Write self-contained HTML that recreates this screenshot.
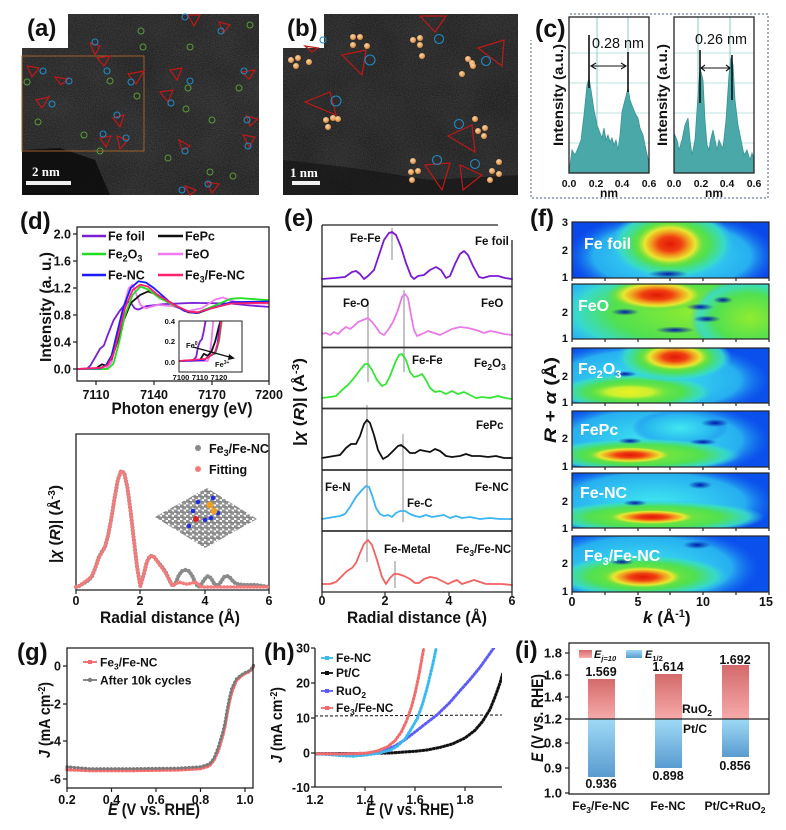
<!DOCTYPE html>
<html><head><meta charset="utf-8"><style>
html,body{margin:0;padding:0;background:#fff}
svg{display:block}
text{font-family:"Liberation Sans",Arial,sans-serif;font-weight:bold;fill:#111}
.t{font-size:12.5px}
.lab{font-size:16px}
.pl{font-size:24px}
.ax{fill:none;stroke:#222;stroke-width:1.3}
.c{fill:none;stroke-width:1.8;stroke-linejoin:round;stroke-linecap:round}
.tr{fill:none;stroke:#c01818;stroke-width:1.2}
.bc{fill:none;stroke:#1e8cc8;stroke-width:1.1}
.gc{fill:none;stroke:#5a9a3a;stroke-width:1}
.wl text{fill:#fff;font-size:16px}
</style></head><body>
<svg width="786" height="830" viewBox="0 0 786 830" xmlns="http://www.w3.org/2000/svg">
<defs>
<filter id="nz" x="0" y="0" width="1" height="1" color-interpolation-filters="sRGB"><feTurbulence type="fractalNoise" baseFrequency="0.85" numOctaves="2" seed="5"/><feColorMatrix type="matrix" values="1.3 0 0 0 -0.25 1.3 0 0 0 -0.25 1.3 0 0 0 -0.25 0 0 0 0 1"/></filter>
<filter id="nz2" x="0" y="0" width="1" height="1" color-interpolation-filters="sRGB"><feTurbulence type="fractalNoise" baseFrequency="0.025" numOctaves="2" seed="9"/><feColorMatrix type="matrix" values="1 0 0 0 -0.2 1 0 0 0 -0.2 1 0 0 0 -0.2 0 0 0 0 1"/></filter>
<radialGradient id="orb" cx="0.4" cy="0.35" r="0.65"><stop offset="0" stop-color="#ffd8a8"/><stop offset="1" stop-color="#d88a40"/></radialGradient>
<radialGradient id="hot"><stop offset="0" stop-color="#e01808"/><stop offset="0.3" stop-color="#f04010"/><stop offset="0.5" stop-color="#f0a020"/><stop offset="0.67" stop-color="#e8e830"/><stop offset="0.85" stop-color="#70e040" stop-opacity="0.8"/><stop offset="1" stop-color="#60e040" stop-opacity="0"/></radialGradient>
<radialGradient id="grn"><stop offset="0" stop-color="#90ec30"/><stop offset="0.6" stop-color="#50e050"/><stop offset="0.85" stop-color="#38dcc8" stop-opacity="0.9"/><stop offset="1" stop-color="#30c0f0" stop-opacity="0"/></radialGradient>
<radialGradient id="yel"><stop offset="0" stop-color="#f0f020"/><stop offset="0.55" stop-color="#c8f030"/><stop offset="1" stop-color="#60e040" stop-opacity="0"/></radialGradient>
<radialGradient id="cya"><stop offset="0" stop-color="#40e8f0"/><stop offset="0.75" stop-color="#28b4f0" stop-opacity="0.95"/><stop offset="1" stop-color="#1870f0" stop-opacity="0"/></radialGradient>
<radialGradient id="dk"><stop offset="0" stop-color="#0018a8"/><stop offset="1" stop-color="#0018a8" stop-opacity="0"/></radialGradient>
<linearGradient id="rb" x1="0" y1="0" x2="0" y2="1"><stop offset="0" stop-color="#d46a6a"/><stop offset="1" stop-color="#f7aaaa"/></linearGradient>
<linearGradient id="bb" x1="0" y1="0" x2="0" y2="1"><stop offset="0" stop-color="#9edaf6"/><stop offset="1" stop-color="#5a9bd0"/></linearGradient>
<pattern id="lat" width="6" height="5.2" patternUnits="userSpaceOnUse"><circle cx="1.5" cy="1.3" r="1.9" fill="#909090" stroke="#6a6a6a" stroke-width="0.5"/><circle cx="4.5" cy="3.9" r="1.9" fill="#909090" stroke="#6a6a6a" stroke-width="0.5"/></pattern>
<clipPath id="cpD"><rect x="77" y="227" width="192" height="154"/></clipPath>
<clipPath id="cpI"><rect x="179" y="321" width="63" height="51"/></clipPath>
<clipPath id="f1"><rect x="572" y="222" width="197" height="56"/></clipPath>
<clipPath id="f2"><rect x="572" y="284" width="197" height="55"/></clipPath>
<clipPath id="f3"><rect x="572" y="348" width="197" height="55"/></clipPath>
<clipPath id="f4"><rect x="572" y="411" width="197" height="56"/></clipPath>
<clipPath id="f5"><rect x="572" y="473" width="197" height="55"/></clipPath>
<clipPath id="f6"><rect x="572" y="536" width="197" height="56"/></clipPath>
<clipPath id="cpH"><rect x="315" y="648" width="187" height="139"/></clipPath>
</defs>

<!-- ===== (a) TEM ===== -->
<rect x="22" y="14" width="237" height="181" fill="#262626"/>
<rect x="22" y="14" width="237" height="181" filter="url(#nz2)" opacity="0.06"/>
<rect x="22" y="14" width="237" height="181" filter="url(#nz)" opacity="0.13"/>
<path d="M22,150 L60,148 L95,160 L110,195 L22,195 Z" fill="#0c0c0c" opacity="0.85"/>
<rect x="22" y="14" width="46" height="34" fill="#fff"/>
<text x="27" y="36" class="pl">(a)</text>
<rect x="22" y="56" width="122" height="95" fill="none" stroke="#a0602a" stroke-width="1"/>
<g class="tr">
<path d="M188,15 L200,15 L194,26Z"/><path d="M219,22 L230,25 L223,33Z"/><path d="M90,43 L100,46 L95,55Z"/><path d="M97,58 L110,56 L104,66Z"/><path d="M27,66 L39,68 L32,77Z"/><path d="M55,77 L68,79 L61,85Z"/><path d="M128,74 L144,71 L136,84Z"/><path d="M36,100 L49,97 L42,108Z"/><path d="M170,70 L182,68 L177,80Z"/><path d="M160,92 L173,90 L168,102Z"/><path d="M113,118 L124,115 L120,127Z"/><path d="M100,138 L111,136 L106,147Z"/><path d="M117,136 L128,140 L120,149Z"/><path d="M179,140 L190,146 L182,150Z"/><path d="M242,72 L255,70 L249,79Z"/><path d="M246,116 L258,119 L250,126Z"/><path d="M243,135 L255,137 L249,147Z"/><path d="M185,186 L196,190 L190,195Z"/><path d="M207,182 L219,184 L212,193Z"/>
</g>
<g class="bc">
<circle cx="185" cy="17" r="3"/><circle cx="221" cy="31" r="3"/><circle cx="95" cy="42" r="3"/><circle cx="107" cy="71" r="3"/><circle cx="43" cy="71" r="3"/><circle cx="69" cy="81" r="3"/><circle cx="131" cy="82" r="3"/><circle cx="52" cy="104" r="3"/><circle cx="190" cy="81" r="3"/><circle cx="171" cy="103" r="3"/><circle cx="117" cy="115" r="3"/><circle cx="103" cy="134" r="3"/><circle cx="126" cy="138" r="3"/><circle cx="185" cy="151" r="3"/><circle cx="244" cy="71" r="3"/><circle cx="247" cy="120" r="3"/><circle cx="248" cy="146" r="3"/><circle cx="182" cy="190" r="3"/><circle cx="208" cy="184" r="3"/>
</g>
<g class="gc">
<circle cx="141" cy="31" r="3"/><circle cx="143" cy="47" r="3"/><circle cx="190" cy="47" r="3"/><circle cx="250" cy="25" r="3"/><circle cx="27" cy="82" r="3"/><circle cx="110" cy="81" r="3"/><circle cx="137" cy="96" r="3"/><circle cx="188" cy="88" r="3"/><circle cx="239" cy="88" r="3"/><circle cx="186" cy="109" r="3"/><circle cx="212" cy="120" r="3"/><circle cx="38" cy="122" r="3"/><circle cx="84" cy="135" r="3"/><circle cx="100" cy="151" r="3"/><circle cx="168" cy="158" r="3"/><circle cx="210" cy="172" r="3"/><circle cx="233" cy="176" r="3"/>
</g>
<text x="32" y="176" style="font-family:'Liberation Serif',serif;font-size:13px;fill:#fff">2 nm</text>
<rect x="26" y="181" width="45" height="4" fill="#f0f0f0"/>

<!-- ===== (b) TEM ===== -->
<rect x="283" y="14" width="235" height="181" fill="#242424"/>
<rect x="283" y="14" width="235" height="181" filter="url(#nz2)" opacity="0.06"/>
<rect x="283" y="14" width="235" height="181" filter="url(#nz)" opacity="0.12"/>
<path d="M283,160 L330,165 L380,172 L430,180 L518,175 L518,195 L283,195Z" fill="#111" opacity="0.6"/>
<rect x="283" y="14" width="41" height="34" fill="#fff"/>
<text x="287" y="36" class="pl">(b)</text>
<g class="tr">
<path d="M342,55 L366,50 L362,75Z"/><path d="M305,102 L330,92 L336,115Z"/><path d="M420,16 L446,16 L435,32Z"/><path d="M478,48 L504,40 L502,66Z"/><path d="M448,136 L472,125 L475,152Z"/><path d="M425,165 L450,163 L442,190Z"/><path d="M460,165 L482,175 L463,190Z"/><path d="M305,46 L318,48 L312,52Z"/>
</g>
<g class="bc" stroke-width="1.2">
<circle cx="370" cy="60" r="5"/><circle cx="336" cy="101" r="5"/><circle cx="439" cy="39" r="4.5"/><circle cx="486" cy="61" r="4.5"/><circle cx="459" cy="124" r="4.5"/><circle cx="437" cy="160" r="4.5"/><circle cx="475" cy="164" r="4.5"/><circle cx="323" cy="40" r="3"/>
</g>
<g fill="url(#orb)">
<circle cx="291" cy="60" r="3"/><circle cx="298" cy="58" r="3"/><circle cx="309" cy="62" r="3"/><circle cx="296" cy="66" r="3"/>
<circle cx="353" cy="37" r="3"/><circle cx="360" cy="37" r="3"/><circle cx="353" cy="45" r="3"/><circle cx="367" cy="46" r="3"/>
<circle cx="326" cy="120" r="3"/><circle cx="333" cy="118" r="3"/><circle cx="328" cy="127" r="3"/><circle cx="338" cy="119" r="3"/>
<circle cx="413" cy="40" r="3"/><circle cx="420" cy="38" r="3"/><circle cx="420" cy="45" r="3"/><circle cx="422" cy="56" r="3"/>
<circle cx="468" cy="59" r="3"/><circle cx="472" cy="63" r="3"/><circle cx="473" cy="66" r="3"/><circle cx="462" cy="74" r="3"/>
<circle cx="475" cy="119" r="3"/><circle cx="478" cy="131" r="3"/><circle cx="485" cy="128" r="3"/><circle cx="484" cy="136" r="3"/>
<circle cx="413" cy="161" r="3"/><circle cx="411" cy="172" r="3"/><circle cx="418" cy="171" r="3"/><circle cx="412" cy="180" r="3"/>
<circle cx="499" cy="162" r="3"/><circle cx="492" cy="171" r="3"/><circle cx="499" cy="174" r="3"/><circle cx="490" cy="180" r="3"/>
</g>
<text x="290" y="177" style="font-family:'Liberation Serif',serif;font-size:13px;fill:#fff">1 nm</text>
<rect x="292" y="181" width="28" height="4" fill="#f0f0f0"/>

<!-- ===== (c) ===== -->
<path d="M570,14 H768 V198 H531 V40" fill="none" stroke="#6a7aa0" stroke-width="1.2" stroke-dasharray="2 2"/>
<text x="535" y="37" class="pl" style="font-size:25px">(c)</text>
<g stroke="#bfe2e2" stroke-width="1"><path d="M569,53 H649 M569,83 H649 M569,113 H649 M569,143 H649 M674,53 H754 M674,83 H754 M674,113 H754 M674,143 H754"/></g>
<g stroke="#8cc8c8" stroke-width="1"><path d="M597,17 V173 M628,17 V173 M698,17 V173 M730,17 V173"/></g>
<path d="M569,173 L572,150 L575,155 L578,148 L581,140 L584,115 L587,85 L589,78 L591,90 L594,110 L597,125 L600,133 L602,138 L604,128 L606,140 L608,135 L610,142 L612,138 L614,145 L616,140 L618,150 L620,135 L622,112 L625,100 L628,88 L630,100 L633,108 L636,115 L638,118 L640,128 L643,135 L646,150 L649,163 L649,173 Z" fill="#4aa8a8" stroke="#3a9494" stroke-width="0.8"/>
<path d="M674,173 L674,133 L677,140 L679,150 L682,140 L685,125 L688,118 L690,140 L692,155 L695,140 L698,95 L700,68 L703,80 L705,120 L707,145 L709,150 L711,138 L713,130 L715,140 L717,150 L719,140 L721,145 L723,148 L726,120 L729,75 L731,58 L733,65 L735,100 L738,125 L741,140 L744,155 L747,150 L750,160 L752,153 L754,158 L754,173 Z" fill="#4aa8a8" stroke="#3a9494" stroke-width="0.8"/>
<rect x="569" y="17" width="80" height="156" class="ax"/>
<rect x="674" y="17" width="80" height="156" class="ax"/>
<g stroke="#111" stroke-width="1.6" fill="none">
<path d="M589,35 V88 M628,52 V92 M700,50 V103 M732,55 V100"/>
<path d="M592,66 H625 M701,68 H730" stroke-width="1.1"/>
<path d="M596,63 L591,66 L596,69 M621,63 L626,66 L621,69 M705,65 L701,68 L705,71 M726,65 L730,68 L726,71" stroke-width="1.1"/>
</g>
<text x="592" y="48" style="font-size:15px;font-weight:normal" textLength="52" lengthAdjust="spacingAndGlyphs">0.28 nm</text>
<text x="695" y="44" style="font-size:15px;font-weight:normal" textLength="52" lengthAdjust="spacingAndGlyphs">0.26 nm</text>
<text transform="translate(563,95) rotate(-90)" text-anchor="middle" style="font-size:14px" textLength="102" lengthAdjust="spacingAndGlyphs">Intensity (a.u.)</text>
<text transform="translate(667,95) rotate(-90)" text-anchor="middle" style="font-size:14px" textLength="102" lengthAdjust="spacingAndGlyphs">Intensity (a.u.)</text>
<g style="font-size:10.5px" text-anchor="middle">
<text x="569" y="187">0.0</text><text x="596" y="187">0.2</text><text x="622" y="187">0.4</text><text x="649" y="187">0.6</text>
<text x="674" y="187">0.0</text><text x="701" y="187">0.2</text><text x="727" y="187">0.4</text><text x="754" y="187">0.6</text>
<text x="609" y="197" style="font-size:12px">nm</text><text x="714" y="197" style="font-size:12px">nm</text>
</g>

<!-- ===== (d) upper ===== -->
<text x="20" y="229" class="pl">(d)</text>
<g clip-path="url(#cpD)">
<polyline class="c" stroke="#7a1fd6" points="77,369 86.6,369 90.4,365.6 96.2,355.5 100,348.8 103.9,345.4 107.7,335 113.5,320.4 119.2,311.6 126.9,301.5 130.8,302.8 134.6,308.3 138.4,309.6 146.1,306.2 163.4,304.2 192.2,302.9 230.6,303.5 249.8,305.5 269,306.9"/>
<polyline class="c" stroke="#f07af0" points="77,369 105.8,369 111.6,362.3 117.3,335.3 123.1,308.3 128.8,288 132.7,284.6 136.5,294.8 140.4,304.9 146.1,308.3 157.6,304.9 173,306.2 188.4,311 201.8,308.3 215.2,299.5 222.9,297.5 234.4,301.5 249.8,303.5 269,303.5"/>
<polyline class="c" stroke="#111" points="77,369 96.2,368.3 102,364.3 105.8,365.6 111.6,358.9 117.3,342 123.1,321.8 130.8,302.9 140.4,294.8 148,291.4 157.6,294.8 173,304.9 188.4,312.3 198,313 211.4,308.3 230.6,303.5 269,301.5"/>
<polyline class="c" stroke="#22dd22" points="77,369 107.7,369 113.5,363.6 119.2,342 125,315 132.7,294.8 140.4,286.6 148,289.4 159.6,298.1 173,304.9 188.4,311.6 198,312.3 211.4,306.9 230.6,298.8 240.2,298.1 269,300.2"/>
<polyline class="c" stroke="#1a1aff" points="77,369 100,368.3 105.8,365.6 111.6,355.5 117.3,331.9 123.1,308.3 130.8,288 138.4,281.3 146.1,282.6 153.8,288 169.2,301.5 184.5,311 196,313 211.4,308.3 230.6,302.2 269,301.5"/>
<polyline class="c" stroke="#ff1f6f" points="77,369 102,367.7 107.7,365 113.5,354.2 119.2,331.9 125,308.3 132.7,290 140.4,284.6 148,286.6 157.6,294.8 173,304.2 188.4,311.6 198,312.3 211.4,308.3 230.6,303.5 269,302.8"/>
</g>
<rect x="77" y="227" width="192" height="154" class="ax"/>
<g stroke="#222" stroke-width="1.2"><path d="M77,369 h-4 M77,342 h-4 M77,315 h-4 M77,288 h-4 M77,261 h-4 M77,234 h-4 M96,381 v4 M154,381 v4 M212,381 v4 M269,381 v4"/></g>
<g class="t" text-anchor="end">
<text x="71" y="373.5">0.0</text><text x="71" y="346.5">0.4</text><text x="71" y="319.5">0.8</text><text x="71" y="292.5">1.2</text><text x="71" y="265.5">1.6</text><text x="71" y="238.5">2.0</text>
</g>
<g class="t" text-anchor="middle"><text x="96" y="399">7110</text><text x="154" y="399">7140</text><text x="212" y="399">7170</text><text x="269" y="399">7200</text></g>
<text x="182" y="414" text-anchor="middle" class="lab" style="font-size:17px" textLength="141" lengthAdjust="spacingAndGlyphs">Photon energy (eV)</text>
<text transform="translate(51,307) rotate(-90)" text-anchor="middle" class="lab" style="font-size:16px" textLength="110" lengthAdjust="spacingAndGlyphs">Intensity (a. u.)</text>
<g stroke-width="2.5">
<line x1="82" y1="236" x2="106" y2="236" stroke="#7a1fd6"/><line x1="158" y1="236" x2="183" y2="236" stroke="#111"/>
<line x1="82" y1="254" x2="106" y2="254" stroke="#22dd22"/><line x1="158" y1="254" x2="183" y2="254" stroke="#f07af0"/>
<line x1="82" y1="275" x2="106" y2="275" stroke="#1a1aff"/><line x1="158" y1="275" x2="183" y2="275" stroke="#ff1f6f"/>
</g>
<g style="font-size:12.5px">
<text x="108" y="240.5">Fe foil</text><text x="185" y="240.5">FePc</text>
<text x="108" y="258.5">Fe<tspan dy="3" style="font-size:9px">2</tspan><tspan dy="-3">O</tspan><tspan dy="3" style="font-size:9px">3</tspan></text><text x="185" y="258.5">FeO</text>
<text x="108" y="279.5">Fe-NC</text><text x="185" y="279.5">Fe<tspan dy="3" style="font-size:9px">3</tspan><tspan dy="-3">/Fe-NC</tspan></text>
</g>
<rect x="179" y="321" width="63" height="51" fill="#fff"/>
<g clip-path="url(#cpI)">
<polyline class="c" stroke-width="1.2" stroke="#7a1fd6" points="179,361 192.4,361 196.2,356.9 198.1,346.6 200,341.4 201.9,339.3 203.8,331 205.7,320"/>
<polyline class="c" stroke-width="1.2" stroke="#f07af0" points="179,361 207.6,361 209.5,356.9 211.4,341.4 213.3,320"/>
<polyline class="c" stroke-width="1.2" stroke="#111" points="179,361 200,360 203.8,353.8 207.6,355.8 211.4,351.7 215.2,341.4 219,326 220.9,320"/>
<polyline class="c" stroke-width="1.2" stroke="#22dd22" points="179,361 203,360 207.6,357.9 211.4,354.8 215.2,353.8 219,341.4 221.9,320"/>
<polyline class="c" stroke-width="1.2" stroke="#1a1aff" points="179,361 204,360 208,357 212,355 215.2,352 217.1,346.6 220.9,320"/>
<polyline class="c" stroke-width="1.2" stroke="#ff1f6f" points="179,361 205.7,358.9 211.4,355 215.2,351.7 219,339.3 221.3,320"/>
</g>
<rect x="179" y="321" width="63" height="51" fill="none" stroke="#222" stroke-width="1"/>
<path d="M193,347 L233,358" stroke="#111" stroke-width="1.2"/><path d="M229,354 L235,358.5 L228,360Z" fill="#111"/>
<g style="font-size:7.5px">
<text x="175" y="324" text-anchor="end">0.4</text><text x="175" y="344" text-anchor="end">0.2</text><text x="175" y="365" text-anchor="end">0.0</text>
<text x="181" y="380" text-anchor="middle">7100</text><text x="200" y="380" text-anchor="middle">7110</text><text x="219" y="380" text-anchor="middle">7120</text>
<text x="186" y="348">Fe<tspan dy="-3" style="font-size:5px">0</tspan></text>
<text x="215" y="367">Fe<tspan dy="-3" style="font-size:5px">3+</tspan></text>
</g>

<!-- ===== (d) lower ===== -->
<polygon points="155,517 207,488 257,519 205,548" fill="url(#lat)"/>
<g fill="#2030e0"><circle cx="193" cy="511" r="2.3"/><circle cx="198" cy="502" r="2.3"/><circle cx="205" cy="520" r="2.3"/><circle cx="213" cy="498" r="2.3"/><circle cx="218" cy="513" r="2.3"/><circle cx="189" cy="526" r="2.3"/><circle cx="211" cy="518" r="2.3"/></g>
<circle cx="210" cy="505" r="3.4" fill="#f0a020"/><circle cx="214" cy="511" r="3.4" fill="#f0a020"/><circle cx="196" cy="519" r="3" fill="#e02020"/>
<path d="M76,434 H269 V590 H76 Z" class="ax"/>
<polyline fill="none" stroke="#8a8a8a" stroke-width="4.2" stroke-linecap="round" stroke-dasharray="0.1 3.2" points="76,587 79.2,586 82.4,584 85.7,582 88.9,580 92.1,576 95.3,568 98.5,558 101.7,552 105,547 108.2,535 111.4,518 114.6,498 117.8,480 121,471 124.3,473 127.5,488 130.7,512 133.9,540 137.1,567 140.3,586 143.6,575 146.8,562 150,556 153.2,556 156.4,560 159.6,564 162.9,568 166.1,573 169.3,580 172.5,586 175.7,583 178.9,575 182.2,571 185.4,570 188.6,571 191.8,575 195,582 198.2,587 201.5,584 204.7,579 207.9,576 211.1,578 214.3,584 217.5,586 220.8,582 224,577 227.2,576 230.4,578 233.6,582 236.9,584 243.3,585 249.7,585 256.2,585 262.6,586 269,587"/>
<polyline fill="none" stroke="#f57a7a" stroke-width="3.6" stroke-linecap="round" stroke-dasharray="0.1 3.2" points="76,587 79.2,586 82.4,584 85.7,581 88.9,579 92.1,575 95.3,568 98.5,559 101.7,553 105,547 108.2,535 111.4,518 114.6,498 117.8,480 121,471 124.3,473 127.5,488 130.7,512 133.9,540 137.1,567 140.3,586 143.6,575 146.8,562 150,556 153.2,556 156.4,560 159.6,565 162.9,569 166.1,574 169.3,580 172.5,586 175.7,584 178.9,582 182.2,583 185.4,584 188.6,584 191.8,583 195,582 198.2,584 201.5,587 210,587 230,587 250,587 269,587"/>
<g stroke="#222" stroke-width="1.2"><path d="M76,590 v4 M140,590 v4 M205,590 v4 M269,590 v4"/></g>
<circle cx="198" cy="448" r="3" fill="#8a8a8a"/><circle cx="198" cy="469" r="3" fill="#f57a7a"/>
<text x="209" y="453" style="font-size:12.5px">Fe<tspan dy="3" style="font-size:9px">3</tspan><tspan dy="-3">/Fe-NC</tspan></text>
<text x="209" y="474" style="font-size:12.5px">Fitting</text>
<g class="t" text-anchor="middle"><text x="76" y="605">0</text><text x="140" y="605">2</text><text x="205" y="605">4</text><text x="269" y="605">6</text></g>
<text x="170" y="623" text-anchor="middle" class="lab" style="font-size:17px" textLength="140" lengthAdjust="spacingAndGlyphs">Radial distance (Å)</text>
<text transform="translate(60,524) rotate(-90)" text-anchor="middle" class="lab" style="font-size:15px" textLength="78" lengthAdjust="spacingAndGlyphs">|<tspan font-style="italic">χ</tspan> (<tspan font-style="italic">R</tspan>)| (Å<tspan dy="-5" style="font-size:10px">-3</tspan><tspan dy="5">)</tspan></text>

<!-- ===== (e) ===== -->
<text x="284" y="226" class="pl">(e)</text>
<g stroke="#c4c4c4" stroke-width="2">
<path d="M392,228 V260 M404,290 V372 M368,303 V382 M367,405 V562 M403,434 V522 M395,561 V588"/>
</g>
<polyline class="c" stroke="#7b18d6" points="322,279 335,278 345,277 352,272 356,271 360,274 364,279 368,276 374,270 379,255 384,240 389,233 392,232 396,235 401,247 406,263 411,276 414,279 418,276 424,275 430,270 436,267 441,270 446,278 450,276 455,264 460,254 464,251 468,255 473,266 479,277 483,278 490,276 498,276 505,278 512,279"/>
<polyline class="c" stroke="#e87ae8" points="322,334 326,333 330,335 334,332 338,334 342,330 346,327 350,329 354,326 358,322 363,320 368,318 372,322 376,327 380,333 384,335 388,330 393,322 398,310 402,297 405,294 408,298 411,315 414,330 417,336 422,334 428,331 434,333 440,335 446,332 452,329 460,327 468,328 476,330 484,333 490,331 496,332 504,334 512,335"/>
<polyline class="c" stroke="#33e633" points="322,398 330,397 336,396 342,390 348,385 354,378 360,370 365,364 368,364 372,370 377,380 382,386 386,384 390,376 395,363 399,355 402,354 406,360 410,372 414,377 418,376 422,374 426,380 430,388 435,392 440,391 446,394 452,391 458,394 464,392 470,395 476,398 482,397 490,398 498,396 505,398 512,399"/>
<polyline class="c" stroke="#111" points="322,458 328,457 334,456 340,455 346,448 351,444 356,444 360,436 364,424 367,420 370,423 374,435 378,450 383,459 388,456 393,451 398,446 401,445 405,448 410,453 415,453 420,450 425,451 430,452 435,449 440,451 446,456 452,457 460,456 466,454 472,456 480,456 488,457 496,456 504,458 512,458"/>
<polyline class="c" stroke="#3ab4f2" points="322,519 328,518 334,517 340,516 345,514 350,507 356,497 362,490 366,486 369,487 372,495 376,508 380,514 384,516 388,515 392,517 396,513 400,511 405,511 410,514 415,516 420,517 426,515 432,517 438,516 444,515 450,518 456,516 462,518 470,517 480,519 490,518 500,519 512,519"/>
<polyline class="c" stroke="#f26060" points="322,584 330,584 336,582 342,576 347,571 352,568 356,563 360,553 364,544 368,540 372,545 377,560 382,577 386,584 390,578 394,574 398,574 404,576 410,579 415,583 419,583 424,579 430,577 436,578 442,581 448,584 452,582 457,580 462,584 468,582 474,580 480,582 486,584 494,584 502,584 512,585"/>
<g stroke="#333" stroke-width="1.8"><path d="M322,286.5 H512 M322,347.5 H512 M322,408.5 H512 M322,470 H512 M322,531 H512"/></g>
<path d="M322,225 H498 M512,240 V592 H322 V225" class="ax"/>
<g stroke="#222" stroke-width="1.2"><path d="M322,592 v4 M385,592 v4 M449,592 v4 M512,592 v4"/></g>
<g style="font-size:11.5px">
<text x="350" y="242">Fe-Fe</text><text x="475" y="245">Fe foil</text>
<text x="343" y="307">Fe-O</text><text x="481" y="307">FeO</text>
<text x="412" y="364">Fe-Fe</text><text x="474" y="367">Fe<tspan dy="3" style="font-size:8.5px">2</tspan><tspan dy="-3">O</tspan><tspan dy="3" style="font-size:8.5px">3</tspan></text>
<text x="476" y="429">FePc</text>
<text x="325" y="491">Fe-N</text><text x="475" y="491">Fe-NC</text>
<text x="407" y="507">Fe-C</text>
<text x="384" y="553">Fe-Metal</text><text x="456" y="553">Fe<tspan dy="3" style="font-size:8.5px">3</tspan><tspan dy="-3">/Fe-NC</tspan></text>
</g>
<g class="t" text-anchor="middle"><text x="322" y="605">0</text><text x="385" y="605">2</text><text x="449" y="605">4</text><text x="512" y="605">6</text></g>
<text x="417" y="623" text-anchor="middle" class="lab" style="font-size:17px" textLength="140" lengthAdjust="spacingAndGlyphs">Radial distance (Å)</text>
<text transform="translate(304,402) rotate(-90)" text-anchor="middle" class="lab" style="font-size:15px" textLength="88" lengthAdjust="spacingAndGlyphs">|<tspan font-style="italic">χ</tspan> (<tspan font-style="italic">R</tspan>)| (Å<tspan dy="-5" style="font-size:10px">-3</tspan><tspan dy="5">)</tspan></text>

<!-- ===== (f) ===== -->
<text x="530" y="226" class="pl">(f)</text>
<g clip-path="url(#f1)">
<rect x="572" y="222" width="197" height="56" fill="#0a48ea"/>
<ellipse cx="672" cy="256" rx="105" ry="44" fill="url(#cya)"/>
<ellipse cx="672" cy="244" rx="62" ry="36" fill="url(#grn)"/>
<ellipse cx="670" cy="244" rx="38" ry="24" fill="url(#hot)"/>
<ellipse cx="668" cy="274" rx="20" ry="4" fill="url(#dk)"/>
</g>
<g clip-path="url(#f2)">
<rect x="572" y="284" width="197" height="55" fill="#2a90f0"/>
<ellipse cx="610" cy="312" rx="80" ry="45" fill="url(#cya)"/>
<ellipse cx="695" cy="312" rx="140" ry="50" fill="url(#grn)"/>
<ellipse cx="750" cy="318" rx="60" ry="40" fill="url(#grn)"/>
<ellipse cx="657" cy="295" rx="50" ry="16" fill="url(#hot)"/>
<ellipse cx="625" cy="312" rx="14" ry="3.5" fill="url(#dk)"/>
<ellipse cx="700" cy="307" rx="14" ry="3.5" fill="url(#dk)"/>
<ellipse cx="707" cy="319" rx="14" ry="3.5" fill="url(#dk)"/>
<ellipse cx="723" cy="300" rx="10" ry="3.5" fill="url(#dk)"/>
<ellipse cx="675" cy="330" rx="20" ry="3.5" fill="url(#dk)"/>
</g>
<g clip-path="url(#f3)">
<rect x="572" y="348" width="197" height="55" fill="#0a50ec"/>
<ellipse cx="650" cy="380" rx="120" ry="40" fill="url(#cya)"/>
<ellipse cx="635" cy="392" rx="80" ry="19" fill="url(#grn)"/>
<ellipse cx="630" cy="392" rx="42" ry="9" fill="url(#yel)"/>
<ellipse cx="674" cy="358" rx="58" ry="24" fill="url(#grn)"/>
<ellipse cx="675" cy="357" rx="38" ry="15" fill="url(#hot)"/>
<ellipse cx="625" cy="374" rx="12" ry="3" fill="url(#dk)"/>
</g>
<g clip-path="url(#f4)">
<rect x="572" y="411" width="197" height="56" fill="#0a50ec"/>
<ellipse cx="655" cy="440" rx="115" ry="40" fill="url(#cya)"/>
<ellipse cx="680" cy="428" rx="48" ry="18" fill="url(#cya)"/>
<ellipse cx="642" cy="455" rx="100" ry="17" fill="url(#grn)"/>
<ellipse cx="630" cy="455" rx="46" ry="9" fill="url(#hot)"/>
<ellipse cx="630" cy="441" rx="12" ry="3" fill="url(#dk)"/>
<ellipse cx="703" cy="442" rx="14" ry="3" fill="url(#dk)"/>
<ellipse cx="715" cy="423" rx="14" ry="4" fill="url(#dk)"/>
</g>
<g clip-path="url(#f5)">
<rect x="572" y="473" width="197" height="55" fill="#0a50ec"/>
<ellipse cx="655" cy="503" rx="120" ry="40" fill="url(#cya)"/>
<ellipse cx="655" cy="517" rx="110" ry="17" fill="url(#grn)"/>
<ellipse cx="652" cy="517" rx="48" ry="8" fill="url(#hot)"/>
<ellipse cx="635" cy="503" rx="12" ry="3" fill="url(#dk)"/>
<ellipse cx="700" cy="485" rx="12" ry="4" fill="url(#dk)"/>
</g>
<g clip-path="url(#f6)">
<rect x="572" y="536" width="197" height="56" fill="#0a50ec"/>
<ellipse cx="645" cy="568" rx="115" ry="42" fill="url(#cya)"/>
<ellipse cx="642" cy="576" rx="88" ry="22" fill="url(#grn)"/>
<ellipse cx="643" cy="577" rx="44" ry="12" fill="url(#hot)"/>
<ellipse cx="622" cy="562" rx="12" ry="3" fill="url(#dk)"/>
<ellipse cx="697" cy="545" rx="14" ry="4" fill="url(#dk)"/>
</g>
<g fill="none" stroke="#222" stroke-width="1.2">
<rect x="572" y="222" width="197" height="56"/><rect x="572" y="284" width="197" height="55"/><rect x="572" y="348" width="197" height="55"/><rect x="572" y="411" width="197" height="56"/><rect x="572" y="473" width="197" height="55"/><rect x="572" y="536" width="197" height="56"/>
<path d="M572,278 v3 M605,278 v3 M638,278 v3 M670,278 v3 M703,278 v3 M736,278 v3 M769,278 v3 M572,339 v3 M605,339 v3 M638,339 v3 M670,339 v3 M703,339 v3 M736,339 v3 M769,339 v3 M572,403 v3 M605,403 v3 M638,403 v3 M670,403 v3 M703,403 v3 M736,403 v3 M769,403 v3 M572,467 v3 M605,467 v3 M638,467 v3 M670,467 v3 M703,467 v3 M736,467 v3 M769,467 v3 M572,528 v3 M605,528 v3 M638,528 v3 M670,528 v3 M703,528 v3 M736,528 v3 M769,528 v3 M572,592 v3 M605,592 v3 M638,592 v3 M670,592 v3 M703,592 v3 M736,592 v3 M769,592 v3"/>
</g>
<g class="wl">
<text x="584" y="249">Fe foil</text><text x="578" y="311">FeO</text><text x="578" y="374">Fe<tspan dy="4" style="font-size:11px">2</tspan><tspan dy="-4">O</tspan><tspan dy="4" style="font-size:11px">3</tspan></text>
<text x="580" y="435">FePc</text><text x="580" y="498">Fe-NC</text><text x="584" y="561">Fe<tspan dy="4" style="font-size:11px">3</tspan><tspan dy="-4">/Fe-NC</tspan></text>
</g>
<g style="font-size:11px" text-anchor="end">
<text x="568" y="226">3</text><text x="568" y="254">2</text><text x="568" y="281">1</text>
<text x="568" y="316">2</text><text x="568" y="342">1</text>
<text x="568" y="380">2</text><text x="568" y="406">1</text>
<text x="568" y="442">2</text><text x="568" y="470">1</text>
<text x="568" y="505">2</text><text x="568" y="532">1</text>
<text x="568" y="567">2</text><text x="568" y="595">1</text>
</g>
<g class="t" text-anchor="middle"><text x="572" y="606">0</text><text x="638" y="606">5</text><text x="703" y="606">10</text><text x="766" y="606">15</text></g>
<text x="643" y="623" class="lab" style="font-size:17px"><tspan font-style="italic">k</tspan> (Å<tspan dy="-6" style="font-size:11px">-1</tspan><tspan dy="6">)</tspan></text>
<text transform="translate(556,400) rotate(-90)" text-anchor="middle" class="lab" style="font-size:17px" textLength="86" lengthAdjust="spacingAndGlyphs"><tspan font-style="italic">R</tspan> + <tspan font-style="italic">α</tspan>  (Å)</text>

<!-- ===== (g) ===== -->
<text x="17" y="660" class="pl">(g)</text>
<polyline fill="none" stroke="#f46a6a" stroke-width="1.6" points="67,769.7 89.3,770.6 133.8,770.6 178.3,770 200.5,768.7 209.4,765.9 213.9,760.3 218.3,750.8 222.8,735.7 225,726.3 227.2,713.1 229.4,701.8 231.7,692.4 236.1,681.1 240.6,676.4 245,673.5 249.5,671.7 252.8,667.9 254,665"/>
<polyline fill="none" stroke="#f46a6a" stroke-width="3.2" stroke-linecap="square" stroke-dasharray="0.1 3.6" points="67,769.7 89.3,770.6 133.8,770.6 178.3,770 200.5,768.7 209.4,765.9 213.9,760.3 218.3,750.8 222.8,735.7 225,726.3 227.2,713.1 229.4,701.8 231.7,692.4 236.1,681.1 240.6,676.4 245,673.5 249.5,671.7 252.8,667.9 254,665"/>
<polyline fill="none" stroke="#7a7a7a" stroke-width="1.6" points="67,766.8 89.3,768.7 133.8,768.7 178.3,768.2 200.5,766.8 209.4,764 213.9,758.4 218.3,747 222.8,732 225,722.5 227.2,709.4 229.4,698 231.7,688.6 236.1,679.2 240.6,675.4 245,672.6 249.5,670.7 252.8,667 254,664"/>
<polyline fill="none" stroke="#7a7a7a" stroke-width="3.2" stroke-linecap="round" stroke-dasharray="0.1 3.6" points="67,766.8 89.3,768.7 133.8,768.7 178.3,768.2 200.5,766.8 209.4,764 213.9,758.4 218.3,747 222.8,732 225,722.5 227.2,709.4 229.4,698 231.7,688.6 236.1,679.2 240.6,675.4 245,672.6 249.5,670.7 252.8,667 254,664"/>
<rect x="67" y="648" width="186" height="140" class="ax"/>
<g stroke="#222" stroke-width="1.2"><path d="M67,666 h-4 M67,704 h-4 M67,741 h-4 M67,779 h-4 M67,788 v4 M111.5,788 v4 M156,788 v4 M200.5,788 v4 M245,788 v4"/></g>
<g class="t" text-anchor="end"><text x="61" y="670.5">0</text><text x="61" y="708.5">-2</text><text x="61" y="745.5">-4</text><text x="61" y="783.5">-6</text></g>
<g class="t" text-anchor="middle"><text x="67" y="804">0.2</text><text x="111.5" y="804">0.4</text><text x="156" y="804">0.6</text><text x="200.5" y="804">0.8</text><text x="245" y="804">1.0</text></g>
<line x1="83" y1="662" x2="97" y2="662" stroke="#f46a6a" stroke-width="1.8"/><rect x="88" y="660" width="4" height="4" fill="#f46a6a"/>
<line x1="83" y1="680" x2="97" y2="680" stroke="#7a7a7a" stroke-width="1.8"/><circle cx="90" cy="680" r="2.2" fill="#7a7a7a"/>
<text x="100" y="666.5" style="font-size:12px">Fe<tspan dy="3" style="font-size:8.5px">3</tspan><tspan dy="-3">/Fe-NC</tspan></text>
<text x="100" y="684.5" style="font-size:12px">After 10k cycles</text>
<text x="154" y="815" text-anchor="middle" class="lab" style="font-size:17px" textLength="92" lengthAdjust="spacingAndGlyphs"><tspan font-style="italic">E</tspan> (V vs. RHE)</text>
<text transform="translate(50,720) rotate(-90)" text-anchor="middle" class="lab" style="font-size:16px" textLength="76" lengthAdjust="spacingAndGlyphs"><tspan font-style="italic">J</tspan> (mA cm<tspan dy="-5" style="font-size:10px">-2</tspan><tspan dy="5">)</tspan></text>

<!-- ===== (h) ===== -->
<text x="264" y="660" class="pl">(h)</text>
<line x1="315" y1="716" x2="502" y2="715" stroke="#222" stroke-width="1.1" stroke-dasharray="3 2"/>
<g clip-path="url(#cpH)">
<polyline fill="none" stroke="#111" stroke-width="1.6" points="315,753.7 365,753.4 390,753 415,751.3 427.5,749.9 440,747.4 452.5,743.9 465,738 475,730.3 482.5,721.5 490,709.3 495,697 500,683 502.5,674.3"/>
<polyline fill="none" stroke="#111" stroke-width="3" stroke-dasharray="0.1 3.4" stroke-linecap="square" points="315,753.7 365,753.4 390,753 415,751.3 427.5,749.9 440,747.4 452.5,743.9 465,738 475,730.3 482.5,721.5 490,709.3 495,697 500,683 502.5,674.3"/>
<polyline fill="none" stroke="#5c5cf5" stroke-width="1.6" points="315,754 365,753.7 375,752.7 385,750.2 395,746 405,739.7 415,732 427.5,722.2 437.5,714.5 450,702.3 460,690.7 470,679.5 480,667.3 490,653.3 493.8,648"/>
<polyline fill="none" stroke="#5c5cf5" stroke-width="3" stroke-dasharray="0.1 3.4" stroke-linecap="square" points="315,754 365,753.7 375,752.7 385,750.2 395,746 405,739.7 415,732 427.5,722.2 437.5,714.5 450,702.3 460,690.7 470,679.5 480,667.3 490,653.3 493.8,648"/>
<polyline fill="none" stroke="#3ab8f0" stroke-width="1.6" points="315,754 327.5,754.4 340,755.5 352.5,756.2 365,755.1 377.5,753.4 390,750.2 397.5,746 405,739 412.5,726.8 417.5,718 422.5,704 427.5,686.5 432.5,665.5 436.3,648"/>
<polyline fill="none" stroke="#3ab8f0" stroke-width="3" stroke-dasharray="0.1 3.4" stroke-linecap="square" points="315,754 327.5,754.4 340,755.5 352.5,756.2 365,755.1 377.5,753.4 390,750.2 397.5,746 405,739 412.5,726.8 417.5,718 422.5,704 427.5,686.5 432.5,665.5 436.3,648"/>
<polyline fill="none" stroke="#f26a6a" stroke-width="1.6" points="315,753.7 340,754 365,753.4 377.5,750.9 387.5,746.7 395,740.8 401.3,732 406.3,721.5 411.3,707.5 415,693.5 418.8,676 422.5,655 423.8,648"/>
<polyline fill="none" stroke="#f26a6a" stroke-width="3" stroke-dasharray="0.1 3.4" stroke-linecap="square" points="315,753.7 340,754 365,753.4 377.5,750.9 387.5,746.7 395,740.8 401.3,732 406.3,721.5 411.3,707.5 415,693.5 418.8,676 422.5,655 423.8,648"/>
</g>
<path d="M315,648 V787 H502" class="ax"/>
<g stroke="#222" stroke-width="1.2"><path d="M315,648 h-4 M315,683 h-4 M315,718 h-4 M315,753 h-4 M315,787 h-4 M365,787 v4 M415,787 v4 M465,787 v4"/></g>
<g class="t" text-anchor="end"><text x="310" y="652.5">30</text><text x="310" y="687.5">20</text><text x="310" y="722.5">10</text><text x="310" y="757.5">0</text><text x="310" y="792">-10</text></g>
<g class="t" text-anchor="middle"><text x="315" y="804">1.2</text><text x="365" y="804">1.4</text><text x="415" y="804">1.6</text><text x="465" y="804">1.8</text></g>
<g stroke-width="1.8"><line x1="321" y1="658" x2="333" y2="658" stroke="#3ab8f0"/><line x1="321" y1="673" x2="333" y2="673" stroke="#111"/><line x1="321" y1="691" x2="333" y2="691" stroke="#5c5cf5"/><line x1="321" y1="708" x2="333" y2="708" stroke="#f26a6a"/></g>
<rect x="325" y="656" width="4" height="4" fill="#3ab8f0"/><rect x="325" y="671" width="4" height="4" fill="#111"/><rect x="325" y="689" width="4" height="4" fill="#5c5cf5"/><rect x="325" y="706" width="4" height="4" fill="#f26a6a"/>
<g style="font-size:12px">
<text x="336" y="662">Fe-NC</text><text x="336" y="677">Pt/C</text>
<text x="336" y="695">RuO<tspan dy="3" style="font-size:8.5px">2</tspan></text>
<text x="336" y="712">Fe<tspan dy="3" style="font-size:8.5px">3</tspan><tspan dy="-3">/Fe-NC</tspan></text>
</g>
<text x="410" y="815" text-anchor="middle" class="lab" style="font-size:17px" textLength="88" lengthAdjust="spacingAndGlyphs"><tspan font-style="italic">E</tspan> (V vs. RHE)</text>
<text transform="translate(282,725) rotate(-90)" text-anchor="middle" class="lab" style="font-size:16px" textLength="76" lengthAdjust="spacingAndGlyphs"><tspan font-style="italic">J</tspan> (mA cm<tspan dy="-5" style="font-size:10px">-2</tspan><tspan dy="5">)</tspan></text>

<!-- ===== (i) ===== -->
<text x="515" y="658" class="pl">(i)</text>
<rect x="588" y="679" width="27" height="40" fill="url(#rb)"/>
<rect x="655" y="674" width="27" height="45" fill="url(#rb)"/>
<rect x="722" y="665" width="27" height="54" fill="url(#rb)"/>
<rect x="588" y="719" width="27" height="58" fill="url(#bb)"/>
<rect x="655" y="719" width="27" height="49" fill="url(#bb)"/>
<rect x="722" y="719" width="27" height="38" fill="url(#bb)"/>
<line x1="569" y1="719" x2="769" y2="719" stroke="#222" stroke-width="1.3"/>
<rect x="569" y="643" width="200" height="151" class="ax"/>
<g stroke="#222" stroke-width="1.2"><path d="M569,653 h-4 M569,675 h-4 M569,697 h-4 M569,719 h-4 M569,743 h-4 M569,768 h-4 M569,793 h-4"/></g>
<g class="t" text-anchor="end" style="font-size:13px"><text x="562" y="657.5">1.8</text><text x="562" y="679.5">1.6</text><text x="562" y="701.5">1.4</text><text x="562" y="723.5">1.2</text><text x="562" y="747.5">0.8</text><text x="562" y="772.5">0.9</text><text x="562" y="797.5">1.0</text></g>
<rect x="579" y="650" width="13" height="8" fill="url(#rb)"/><rect x="626" y="650" width="16" height="8" fill="url(#bb)"/>
<text x="594" y="658" style="font-size:11px;font-style:italic">E<tspan dy="3" style="font-size:7.5px">j=10</tspan></text>
<text x="645" y="658" style="font-size:11px;font-style:italic">E<tspan dy="3" style="font-size:7.5px;font-style:normal">1/2</tspan></text>
<g style="font-size:12.5px" text-anchor="middle">
<text x="601" y="676">1.569</text><text x="668" y="671">1.614</text><text x="735" y="664">1.692</text>
<text x="601" y="788">0.936</text><text x="668" y="780">0.898</text><text x="735" y="770">0.856</text>
<text x="697" y="713" style="font-size:12px">RuO<tspan dy="3" style="font-size:8.5px">2</tspan></text>
<text x="695" y="733" style="font-size:12px">Pt/C</text>
<text x="601" y="810" style="font-size:12px">Fe<tspan dy="3" style="font-size:8.5px">3</tspan><tspan dy="-3">/Fe-NC</tspan></text>
<text x="668" y="810" style="font-size:12px">Fe-NC</text>
<text x="735" y="810" style="font-size:12px">Pt/C+RuO<tspan dy="3" style="font-size:8.5px">2</tspan></text>
</g>
<text transform="translate(543,718) rotate(-90)" text-anchor="middle" class="lab" style="font-size:17px" textLength="88" lengthAdjust="spacingAndGlyphs"><tspan font-style="italic">E</tspan> (V vs. RHE)</text>
</svg>
</body></html>
